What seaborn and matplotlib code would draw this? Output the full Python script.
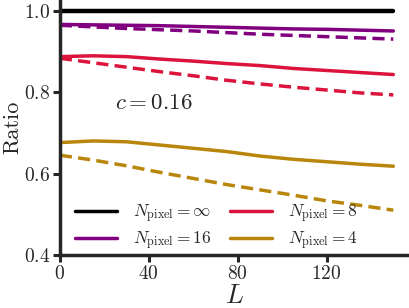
import numpy as np
import pandas as pd
import matplotlib
matplotlib.use("Agg")
import matplotlib.pyplot as plt
import seaborn as sns
from matplotlib.lines import Line2D

# data (L grid every 15)
L = [0, 15, 30, 45, 60, 75, 90, 105, 120, 135, 150]
inf_solid = [1.0] * len(L)
n16_solid = [0.966, 0.965, 0.964, 0.963, 0.961, 0.959, 0.957, 0.955, 0.954, 0.952, 0.950]
n16_dash = [0.964, 0.960, 0.956, 0.953, 0.950, 0.946, 0.942, 0.939, 0.936, 0.933, 0.930]
n8_solid = [0.887, 0.889, 0.887, 0.881, 0.876, 0.870, 0.865, 0.858, 0.853, 0.848, 0.843]
n8_dash = [0.883, 0.872, 0.861, 0.850, 0.840, 0.829, 0.820, 0.812, 0.805, 0.798, 0.793]
n4_solid = [0.676, 0.680, 0.678, 0.670, 0.662, 0.654, 0.643, 0.635, 0.629, 0.623, 0.618]
n4_dash = [0.645, 0.633, 0.619, 0.603, 0.588, 0.573, 0.560, 0.547, 0.533, 0.522, 0.510]

labels = [r"$N_{\rm pixel} = \infty$", r"$N_{\rm pixel} = 16$",
          r"$N_{\rm pixel} = 8$", r"$N_{\rm pixel} = 4$"]
colors = ["black", "purple", "crimson", "darkgoldenrod"]

rows = []
for name, kind, vals in [("inf", "solid", inf_solid),
                         ("16", "solid", n16_solid), ("16", "dash", n16_dash),
                         ("8", "solid", n8_solid), ("8", "dash", n8_dash),
                         ("4", "solid", n4_solid), ("4", "dash", n4_dash)]:
    for l, v in zip(L, vals):
        rows.append({"L": l, "ratio": v, "N": name, "kind": kind})
df = pd.DataFrame(rows)

sns.set_style("ticks")
plt.rcParams["font.family"] = "cmr10"
plt.rcParams["mathtext.fontset"] = "cm"
plt.rcParams["axes.formatter.use_mathtext"] = True

fig = plt.figure(figsize=(4.1, 3.08), dpi=100)
ax = fig.add_axes([0.146, 0.172, 0.854, 0.828])

palette = dict(zip(["inf", "16", "8", "4"], colors))
dashes = {"solid": "", "dash": (3.5, 1.8)}
sns.lineplot(data=df[df.N != "inf"], x="L", y="ratio", hue="N", style="kind",
             palette=palette, dashes=dashes, lw=2.5, legend=False, ax=ax)
sns.lineplot(data=df[df.N == "inf"], x="L", y="ratio", color="black", lw=3.2,
             legend=False, ax=ax)

ax.set_xlim(0, 157.5)
ax.set_ylim(0.4, 1.026)
ax.set_xticks([0, 40, 80, 120])
ax.set_yticks([0.4, 0.6, 0.8, 1.0])
ax.set_xlabel(r"$L$", fontsize=19, labelpad=1)
ax.set_ylabel("Ratio", fontsize=16, labelpad=1)
ax.tick_params(labelsize=14, width=2.2, length=5, pad=2)
for s in ["left", "bottom"]:
    ax.spines[s].set_linewidth(2.5)
sns.despine(ax=ax)

ax.text(25, 0.773, r"$c = 0.16$", fontsize=16.5, va="center")

handles = [Line2D([], [], color=c, lw=2.5) for c in colors]
ax.legend(handles, labels, ncol=2, loc="lower left", frameon=False,
          fontsize=12.5, handlelength=2.4, handletextpad=0.9, columnspacing=1.1,
          bbox_to_anchor=(0.0, -0.05), labelspacing=0.25)

fig.savefig("out.png", dpi=100)
